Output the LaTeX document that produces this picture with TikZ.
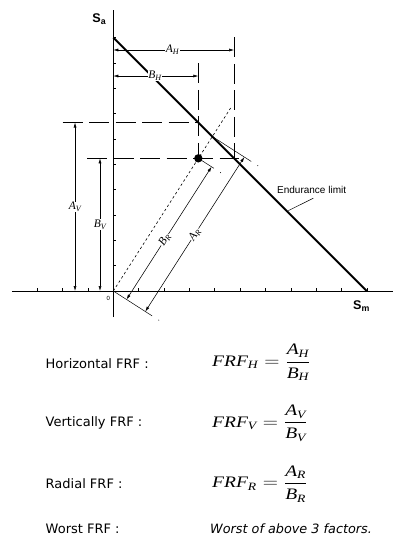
\documentclass[tikz,border=0pt]{standalone}
\usepackage{amsmath}
\usepackage{fontspec}
\setmainfont{Liberation Serif}
\newfontfamily\labsans{Liberation Sans}
\newfontfamily\txtsans{DejaVu Sans}
\usetikzlibrary{arrows.meta,calc}
\newcommand\vv[1]{\text{\itshape #1}}
\tikzset{
  axisline/.style={line width=0.7pt},
  tickmark/.style={line width=0.5pt},
  endline/.style={line width=2pt,line cap=butt},
  dimline/.style={line width=0.55pt,{Latex[length=5pt,width=3pt]}-{Latex[length=5pt,width=3pt]}},
  dashline/.style={line width=0.7pt,dash pattern=on 20pt off 6.5pt},
  extline/.style={line width=0.5pt},
  dimlab/.style={fill=white,inner sep=0.5pt,font=\fontsize{11.5}{12}\selectfont},
  rowlab/.style={anchor=west,inner sep=0pt,font=\txtsans\fontsize{13}{15}\selectfont},
  formula/.style={anchor=west,inner sep=0pt,font=\fontsize{16}{18}\selectfont}
}
\begin{document}
\begin{tikzpicture}[x=1pt,y=-1pt]
\useasboundingbox[fill=white] (0,0) rectangle (407,545);
\begin{scope}[shift={(113.3,291)},x=25.35pt,y=25.35pt]
  % axes
  \coordinate (O) at (0,0);
  \coordinate (ytop) at (0,11.08);
  \coordinate (ybot) at (0,-1.03);
  \coordinate (xl) at (-4.0,0);
  \coordinate (xr) at (11.03,0);
  \draw[axisline] (ybot) -- (ytop);
  \draw[axisline] (xl) -- (xr);
  \foreach \k in {-3,...,10} \draw[tickmark] (\k,0) -- ++(0,0.12);
  \foreach \k in {1,...,10} \draw[tickmark] (0,\k) -- ++(0.12,0);
  % key points
  \coordinate (P) at (3.354,5.234);
  \coordinate (H) at (4.766,5.234);
  \coordinate (V) at (3.354,6.646);
  \coordinate (R) at (3.906,6.094);
  \coordinate (Rend) at (4.63,7.22);
  % dashed projection lines
  \draw[dashline] (-2.0,6.646) -- (V);
  \draw[dashline] (-1.03,5.234) -- (4.95,5.234);
  \draw[dashline] (3.354,8.98) -- (P);
  \draw[dashline] (4.766,10.0) -- (H);
  % radial dotted line
  \draw[line width=0.6pt,dash pattern=on 2.5pt off 2.5pt] (O) -- (Rend);
  % extension lines perpendicular to radial
  \draw[extline] (O) -- ($(O)+(0.842*1.82,-0.5396*1.82)$);
  \fill ($(O)+(0.842*2.13,-0.5396*2.13)$) circle (0.5pt);
  \draw[extline] (P) -- ($(P)+(0.842*0.73,-0.5396*0.73)$);
  \fill ($(P)+(0.842*1.04,-0.5396*1.04)$) circle (0.5pt);
  \draw[extline] (R) -- ($(R)+(0.842*1.82,-0.5396*1.82)$);
  \fill ($(R)+(0.842*2.13,-0.5396*2.13)$) circle (0.5pt);
  % endurance line
  \coordinate (E1) at (0,10);
  \coordinate (E2) at (10,0);
  \draw[endline] (E1) -- (E2);
  % horizontal dimensions
  \draw[dimline] (0,9.507) -- node[dimlab,pos=0.49] {$\vv{A}_{\vv{H}}$} (4.766,9.507);
  \draw[dimline] (0,8.48) -- node[dimlab,pos=0.49] {$\vv{B}_{\vv{H}}$} (3.354,8.48);
  % vertical dimensions
  \draw[dimline] (-1.51,6.646) -- node[dimlab,pos=0.5] {$\vv{A}_{\vv{V}}$} (-1.51,0);
  \draw[dimline] (-0.525,5.234) -- node[dimlab,pos=0.5] {$\vv{B}_{\vv{V}}$} (-0.525,0);
  % radial dimensions
  \coordinate (BR1) at ($(O)+(0.842*0.62,-0.5396*0.62)$);
  \coordinate (BR2) at ($(P)+(0.842*0.62,-0.5396*0.62)$);
  \coordinate (AR1) at ($(O)+(0.842*1.5,-0.5396*1.5)$);
  \coordinate (AR2) at ($(R)+(0.842*1.5,-0.5396*1.5)$);
  \draw[dimline] (BR1) -- node[dimlab,sloped,pos=0.45] {$\vv{B}_{\vv{R}}$} (BR2);
  \draw[dimline] (AR1) -- node[dimlab,sloped,pos=0.5] {$\vv{A}_{\vv{R}}$} (AR2);
  % operating point
  \fill (P) circle (4.2pt);
  % axis labels
  \node[font=\labsans\bfseries\fontsize{12.6}{14}\selectfont,inner sep=0pt] (Sa) at (-0.55,10.71) {S\textsubscript{a}};
  \node[font=\labsans\bfseries\fontsize{12.6}{14}\selectfont,inner sep=0pt] (Sm) at (9.79,-0.59) {S\textsubscript{m}};
  \node[font=\labsans\fontsize{6}{7}\selectfont,inner sep=0pt] (zero) at (-0.2,-0.29) {0};
  % endurance limit label
  \node[font=\labsans\fontsize{10}{12}\selectfont,inner sep=0pt] (EL) at (7.824,3.998) {Endurance limit};
  \coordinate (Lstart) at (6.905,3.17);
  \coordinate (Lend) at (7.89,3.66);
  \draw[line width=0.5pt] (Lstart) -- (Lend);
\end{scope}
% bottom formulas
\node[rowlab] (t1) at (45.5,363.3) {Horizontal FRF :};
\node[rowlab] (t2) at (45.5,423.3) {Vertically FRF :};
\node[rowlab] (t3) at (45.5,484) {Radial FRF :};
\node[rowlab] (t4) at (45.5,529) {Worst FRF :};
\node[formula] (f1) at (212,362.5) {\scalebox{1.22}[1]{$\vv{FRF}_{\vv{H}}=\dfrac{\vv{A}_{\vv{H}}}{\vv{B}_{\vv{H}}}$}};
\node[formula] (f2) at (212,423.3) {\scalebox{1.22}[1]{$\vv{FRF}_{\vv{V}}=\dfrac{\vv{A}_{\vv{V}}}{\vv{B}_{\vv{V}}}$}};
\node[formula] (f3) at (212,484) {\scalebox{1.22}[1]{$\vv{FRF}_{\vv{R}}=\dfrac{\vv{A}_{\vv{R}}}{\vv{B}_{\vv{R}}}$}};
\node[rowlab,font=\txtsans\itshape\fontsize{12.8}{14}\selectfont] (f4) at (210,529) {Worst of above 3 factors.};
\end{tikzpicture}
\end{document}
